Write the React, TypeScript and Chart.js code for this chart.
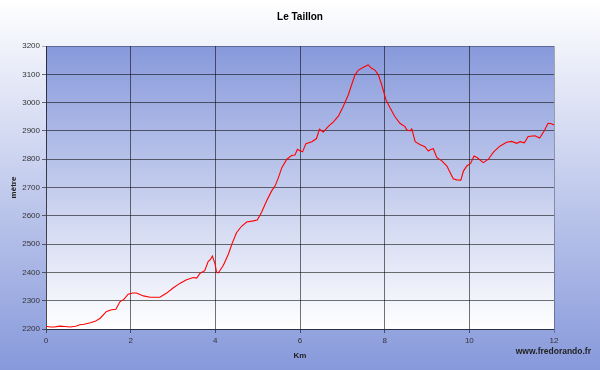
import React, { useEffect, useRef } from "react";
import { Chart, registerables } from "chart.js";

Chart.register(...registerables);

const distanceKm: number[] = [
  0.0, 0.1, 0.2, 0.33, 0.45, 0.57, 0.7, 0.8, 0.9, 1.05, 1.16, 1.28, 1.43, 1.55, 1.65, 1.75, 1.83, 1.94,
  2.05, 2.14, 2.3, 2.46, 2.69, 2.85, 3.0, 3.17, 3.32, 3.48, 3.56, 3.64, 3.75, 3.83, 3.88, 3.93, 3.99,
  4.03, 4.07, 4.19, 4.31, 4.39, 4.5, 4.62, 4.74, 4.9, 4.99, 5.09, 5.21, 5.33, 5.41, 5.49, 5.57, 5.69,
  5.8, 5.88, 5.94, 6.0, 6.06, 6.14, 6.28, 6.39, 6.46, 6.55, 6.67, 6.79, 6.91, 7.02, 7.14, 7.22, 7.3,
  7.38, 7.5, 7.61, 7.69, 7.77, 7.85, 7.93, 8.03, 8.13, 8.24, 8.36, 8.48, 8.52, 8.6, 8.64, 8.72, 8.83,
  8.95, 9.03, 9.1, 9.15, 9.23, 9.35, 9.47, 9.54, 9.62, 9.7, 9.8, 9.86, 9.94, 10.03, 10.11, 10.19,
  10.33, 10.45, 10.57, 10.72, 10.88, 11.0, 11.12, 11.2, 11.3, 11.39, 11.55, 11.66, 11.76, 11.86,
  11.94, 12.0,
];

const altitudeM: number[] = [
  2210, 2207, 2207, 2210, 2209, 2207, 2210, 2215, 2217, 2222, 2227, 2238, 2262, 2268, 2270, 2297, 2303, 2323,
  2327, 2327, 2317, 2312, 2312, 2327, 2345, 2362, 2374, 2382, 2380, 2397, 2406, 2438, 2445, 2458, 2432,
  2400, 2398, 2425, 2465, 2500, 2540, 2563, 2578, 2582, 2585, 2612, 2652, 2688, 2705, 2735, 2770, 2800,
  2813, 2815, 2835, 2830, 2826, 2855, 2862, 2873, 2906, 2896, 2916, 2932, 2953, 2986, 3027, 3063, 3098,
  3115, 3125, 3133, 3121, 3115, 3098, 3063, 3010, 2981, 2951, 2927, 2915, 2904, 2900, 2907, 2862, 2852,
  2844, 2829, 2835, 2837, 2806, 2794, 2776, 2755, 2731, 2727, 2726, 2758, 2776, 2785, 2811, 2805,
  2788, 2800, 2825, 2846, 2860, 2863, 2856, 2862, 2858, 2880, 2883, 2875, 2898, 2927,
  2925, 2921,
];

const xTicks: number[] = [0, 2, 4, 6, 8, 10, 12];
const yTicks: number[] = [2200, 2300, 2400, 2500, 2600, 2700, 2800, 2900, 3000, 3100, 3200];

const titleText = "Le Taillon";
const xTitle = "Km";
const yTitle = "mètre";
const creditText = "www.fredorando.fr";

const FONT = "'Liberation Sans', Arial, sans-serif";
const BLUE = "#8799db";

const backgroundPlugin = {
  id: "bgPlugin",
  beforeDraw(chart: any) {
    const { ctx, width, height, chartArea } = chart;
    ctx.save();
    const g = ctx.createLinearGradient(0, 0, 0, height);
    g.addColorStop(0, "#ffffff");
    g.addColorStop(1, BLUE);
    ctx.fillStyle = g;
    ctx.fillRect(0, 0, width, height);
    const { left, top, right, bottom } = chartArea;
    const g2 = ctx.createLinearGradient(0, top, 0, bottom);
    g2.addColorStop(0, BLUE);
    g2.addColorStop(1, "#ffffff");
    ctx.fillStyle = g2;
    ctx.fillRect(left, top, right - left, bottom - top);
    ctx.restore();
  },
  afterDraw(chart: any) {
    const { ctx, chartArea } = chart;
    ctx.save();
    ctx.fillStyle = "#000";
    ctx.textAlign = "center";
    ctx.textBaseline = "middle";
    ctx.font = `bold 10px ${FONT}`;
    ctx.fillText(titleText, (chartArea.left + chartArea.right) / 2, 17);
    ctx.font = `bold 8.5px ${FONT}`;
    ctx.fillStyle = "#222";
    ctx.textAlign = "right";
    ctx.fillText(creditText, 591, 352);
    ctx.restore();
  },
};

export default function App() {
  const ref = useRef<HTMLCanvasElement | null>(null);

  useEffect(() => {
    if (!ref.current) return;
    const points = distanceKm.map((x, i) => ({ x, y: altitudeM[i] }));
    const chart = new Chart(ref.current, {
      type: "line",
      data: {
        datasets: [
          {
            data: points,
            borderColor: "#ff0000",
            borderWidth: 1.1,
            pointRadius: 0,
            tension: 0,
            fill: false,
          },
        ],
      },
      options: {
        animation: false,
        responsive: false,
        layout: { padding: { left: 0, top: 46, right: 46, bottom: 0 } },
        plugins: {
          legend: { display: false },
          tooltip: { enabled: false },
          title: { display: false },
        },
        scales: {
          x: {
            type: "linear",
            min: 0,
            max: 12,
            afterFit: (s: any) => {
              s.height = 41;
            },
            afterBuildTicks: (s: any) => {
              s.ticks = xTicks.map((v) => ({ value: v }));
            },
            ticks: {
              color: "#333",
              font: { family: FONT, size: 8 },
              padding: 3,
              maxRotation: 0,
              callback: (v: any) => String(v),
            },
            grid: {
              color: (c: any) =>
                c.tick && c.tick.value === 12 ? "rgba(0,0,0,0.3)" : "rgba(0,0,0,0.55)",
              tickLength: 4,
              lineWidth: 1,
            },
            border: { display: true, color: "rgba(0,0,0,0.35)" },
            title: {
              display: true,
              text: xTitle,
              color: "#222",
              font: { family: FONT, size: 8, weight: "bold" },
              padding: { top: 0, bottom: 9 },
            },
          },
          y: {
            type: "linear",
            min: 2200,
            max: 3200,
            afterFit: (s: any) => {
              s.width = 46;
            },
            afterBuildTicks: (s: any) => {
              s.ticks = yTicks.map((v) => ({ value: v }));
            },
            ticks: {
              color: "#333",
              font: { family: FONT, size: 8 },
              padding: 2,
              callback: (v: any) => String(v),
            },
            grid: {
              color: (c: any) =>
                c.tick && c.tick.value === 3200 ? "rgba(0,0,0,0.3)" : "rgba(0,0,0,0.55)",
              tickLength: 4,
              lineWidth: 1,
            },
            border: { display: true, color: "rgba(0,0,0,0.35)" },
            title: {
              display: true,
              text: yTitle,
              color: "#222",
              font: { family: FONT, size: 8, weight: "bold" },
              padding: { top: 9, bottom: 0 },
            },
          },
        },
      },
      plugins: [backgroundPlugin],
    });
    return () => chart.destroy();
  }, []);

  return (
    <div style={{ position: "absolute", left: 0, top: 0, width: 600, height: 370 }}>
      <canvas ref={ref} width={600} height={370} style={{ display: "block" }} />
    </div>
  );
}
